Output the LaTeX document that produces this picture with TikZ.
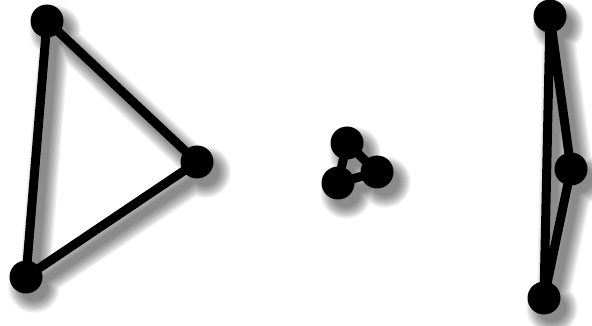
\documentclass[tikz,border=0pt]{standalone}
\usetikzlibrary{backgrounds}

\tikzset{
  dot/.style={circle,fill=black,inner sep=0pt,minimum size=33pt},
  link/.style={line width=9pt,line join=round,line cap=round},
}

% shadow copy of a triangle, shifted down right
\newcommand{\shadetri}[4]{%
  \draw[line width=#4,line join=round,line cap=round]
    ([shift={(8,10)}]#1.center) -- ([shift={(8,10)}]#2.center)
    -- ([shift={(8,10)}]#3.center) -- cycle;
}

\begin{document}
\begin{tikzpicture}[x=1pt,y=-1pt]
    \useasboundingbox (0,0) rectangle (592,326);

    % left triangle
    \node[dot] (l1) at (47,21) {};
    \node[dot] (l2) at (197,162) {};
    \node[dot] (l3) at (26,277) {};

    % small triangle
    \node[dot] (m1) at (347,143) {};
    \node[dot] (m2) at (377,172) {};
    \node[dot] (m3) at (338,183) {};

    % right triangle
    \node[dot] (r1) at (550,16) {};
    \node[dot] (r2) at (571,169) {};
    \node[dot] (r3) at (544,298) {};

    \draw[link] (l1.center) -- (l2.center) -- (l3.center) -- cycle;
    \draw[link] (m1.center) -- (m2.center) -- (m3.center) -- cycle;
    \draw[link] (r1.center) -- (r2.center) -- (r3.center) -- cycle;

    \begin{pgfonlayer}{background}
      \foreach \k in {0,...,9} {
        \begin{scope}[transparency group,opacity=0.06]
          \foreach \n in {l1,l2,l3,m1,m2,m3,r1,r2,r3}
            \fill ([shift={(8,10)}]\n.center) circle ({14+1.3*\k});
          \shadetri{l1}{l2}{l3}{7pt+2.6pt*\k}
          \shadetri{m1}{m2}{m3}{7pt+2.6pt*\k}
          \shadetri{r1}{r2}{r3}{7pt+2.6pt*\k}
        \end{scope}
      }
    \end{pgfonlayer}
\end{tikzpicture}
\end{document}
